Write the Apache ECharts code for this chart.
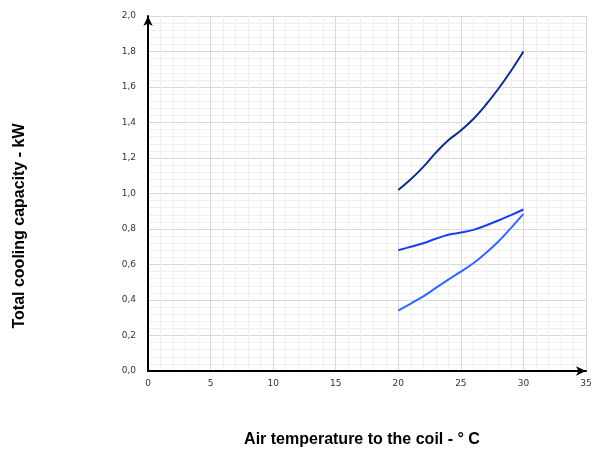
<!DOCTYPE html>
<html><head><meta charset="utf-8">
<script src="https://cdn.jsdelivr.net/npm/echarts@6/dist/echarts.min.js"></script>
<style>html,body{margin:0;padding:0;background:#fff}#c{width:595px;height:450px}</style>
</head><body><div id="c"></div>
<script>
const temps = [20, 21, 22, 23, 24, 25, 26, 27, 28, 29, 30];
const seriesTop = [1.02, 1.08, 1.15, 1.23, 1.30, 1.355, 1.42, 1.50, 1.59, 1.69, 1.80];
const seriesMid = [0.68, 0.70, 0.72, 0.745, 0.768, 0.78, 0.795, 0.82, 0.848, 0.878, 0.91];
const seriesLow = [0.34, 0.38, 0.42, 0.468, 0.515, 0.56, 0.607, 0.665, 0.73, 0.805, 0.885];
const xTitle = 'Air temperature to the coil - ° C';
const yTitle = 'Total cooling capacity - kW';
const colors = ['#0d2f8a', '#1a3cf5', '#3366ff'];

const pairs = arr => temps.map((t, i) => [t, arr[i]]);
const chart = echarts.init(document.getElementById('c'), null, {renderer: 'canvas'});
const labelFont = {fontFamily: 'DejaVu Sans', fontSize: 9, color: '#333'};
const titleStyle = {fontFamily: 'Liberation Sans', fontSize: 16, fontWeight: 'bold', fill: '#000'};
chart.setOption({
  animation: false,
  grid: {left: 148, right: 9, top: 16, bottom: 79, containLabel: false},
  graphic: [
    {type: 'text', x: 362, y: 440, style: Object.assign({text: xTitle, align: 'center', verticalAlign: 'middle'}, titleStyle)},
    {type: 'text', x: 20, y: 226, rotation: Math.PI / 2, style: Object.assign({text: yTitle, align: 'center', verticalAlign: 'middle'}, titleStyle)}
  ],
  xAxis: {
    type: 'value', min: 0, max: 35, interval: 5,
    axisLine: {show: true, onZero: false, symbol: ['none', 'arrow'], symbolSize: [7, 10], lineStyle: {color: '#000', width: 2}},
    axisTick: {show: false},
    axisLabel: Object.assign({margin: 8}, labelFont),
    splitLine: {show: true, lineStyle: {color: '#d9d9d9', width: 1}},
    minorTick: {show: false, splitNumber: 5},
    minorSplitLine: {show: true, lineStyle: {color: '#efefef', width: 1}}
  },
  yAxis: {
    type: 'value', min: 0, max: 2, interval: 0.2,
    axisLine: {show: true, onZero: false, symbol: ['none', 'arrow'], symbolSize: [7, 10], lineStyle: {color: '#000', width: 2}},
    axisTick: {show: false},
    axisLabel: Object.assign({margin: 12, formatter: v => v.toFixed(1).replace('.', ',')}, labelFont),
    splitLine: {show: true, lineStyle: {color: '#d9d9d9', width: 1}},
    minorTick: {show: false, splitNumber: 5},
    minorSplitLine: {show: true, lineStyle: {color: '#efefef', width: 1}}
  },
  series: [seriesTop, seriesMid, seriesLow].map((s, i) => ({
    type: 'line', data: pairs(s), smooth: 0.4, showSymbol: false, symbol: 'none',
    lineStyle: {color: colors[i], width: 2}
  }))
});
</script></body></html>
